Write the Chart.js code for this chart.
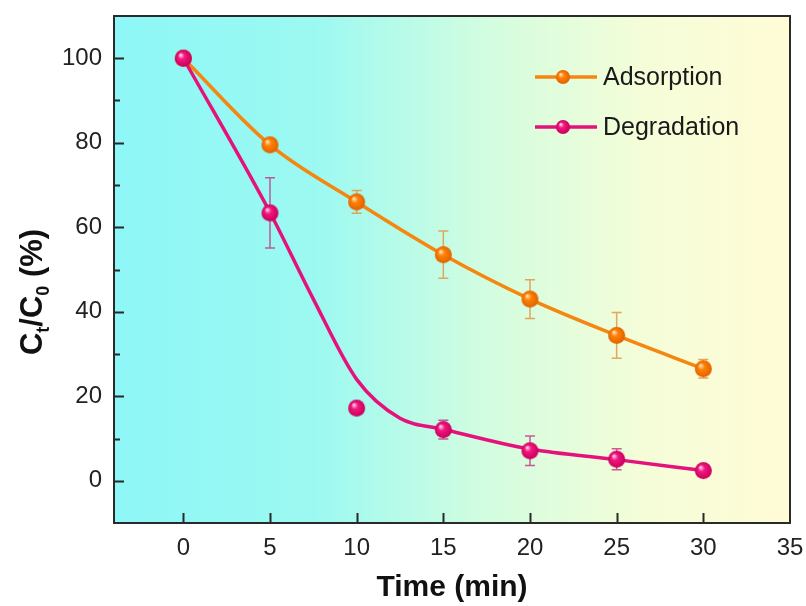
<!DOCTYPE html>
<html>
<head>
<meta charset="utf-8">
<script src="https://cdn.jsdelivr.net/npm/chart.js@4.4.1/dist/chart.umd.min.js"></script>
<style>
  html, body { margin: 0; padding: 0; background: #ffffff; }
  #wrap { width: 806px; height: 606px; }
</style>
</head>
<body>
<div id="wrap"><canvas id="c" width="806" height="606"></canvas></div>
<script>
// ---- Data ----
const times = [0, 5, 10, 15, 20, 25, 30];
const adsorption = [100, 79.5, 66, 53.5, 43, 34.4, 26.5];
const adsorptionErr = [0, 1, 2.7, 5.6, 4.6, 5.4, 2.2];
const degradation = [100, 63.4, 17.2, 12.1, 7.1, 5.1, 2.4];
const degradationErr = [0, 8.3, 0, 2.2, 3.5, 2.5, 0.6];
// fitted degradation curve
const fitTimes = [0, 5, 7.5, 10, 12.5, 15, 20, 25, 30];
const fitDegradation = [100, 63.5, 43, 24, 14.8, 12.2, 7.5, 5.0, 2.4];
const xTicks = [0, 5, 10, 15, 20, 25, 30, 35];
const yTicks = [0, 20, 40, 60, 80, 100];
const yMinorTicks = [10, 30, 50, 70, 90];
const seriesNames = ['Adsorption', 'Degradation'];
const xTitle = 'Time (min)';

const FONT = '"Liberation Sans", Arial, Helvetica, sans-serif';
const ORANGE = '#f5860f';
const PINK = '#e5127c';

function sphere(r, base, edge, hi) {
  const c = document.createElement('canvas');
  const s = Math.ceil(2 * r + 2);
  c.width = s; c.height = s;
  const g = c.getContext('2d');
  const cx = s / 2, cy = s / 2;
  const grad = g.createRadialGradient(cx - 0.35 * r, cy - 0.4 * r, 0.5, cx, cy, r);
  grad.addColorStop(0, hi);
  grad.addColorStop(0.35, base);
  grad.addColorStop(1, edge);
  g.fillStyle = grad;
  g.beginPath(); g.arc(cx, cy, r, 0, Math.PI * 2); g.fill();
  return c;
}
const orangeBall = sphere(8.5, '#ff8205', '#e06200', '#ffe2c0');
const pinkBall = sphere(8.5, '#f2187f', '#c8005c', '#ffd0e8');
const orangeBallS = sphere(7, '#ff8205', '#e06200', '#ffe2c0');
const pinkBallS = sphere(7, '#f2187f', '#c8005c', '#ffd0e8');

const pts = (xs, ys) => xs.map((x, i) => ({ x: x, y: ys[i] }));

const bgPlugin = {
  id: 'bg',
  beforeDraw(chart) {
    const { ctx, chartArea: a } = chart;
    ctx.save();
    ctx.fillStyle = '#ffffff';
    ctx.fillRect(0, 0, chart.width, chart.height);
    const g = ctx.createLinearGradient(a.left, 0, a.right, 0);
    g.addColorStop(0, '#8ef7f7');
    g.addColorStop(0.3, '#9cf9f1');
    g.addColorStop(0.55, '#d2fde0');
    g.addColorStop(0.78, '#f4fdd8');
    g.addColorStop(1, '#fffcd6');
    ctx.fillStyle = g;
    ctx.fillRect(a.left, a.top, a.right - a.left, a.bottom - a.top);
    ctx.restore();
  }
};

const errPlugin = {
  id: 'errbars',
  beforeDatasetsDraw(chart) {
    const { ctx, scales: { x, y } } = chart;
    const sets = [
      { vals: adsorption, err: adsorptionErr, color: 'rgba(226,150,70,0.85)' },
      { vals: degradation, err: degradationErr, color: 'rgba(196,60,140,0.85)' }
    ];
    ctx.save();
    ctx.lineWidth = 1.5;
    sets.forEach(s => {
      ctx.strokeStyle = s.color;
      times.forEach((t, i) => {
        const e = s.err[i];
        if (!e) return;
        const px = x.getPixelForValue(t);
        const top = y.getPixelForValue(s.vals[i] + e);
        const bot = y.getPixelForValue(s.vals[i] - e);
        ctx.beginPath();
        ctx.moveTo(px, top); ctx.lineTo(px, bot);
        ctx.moveTo(px - 5, top); ctx.lineTo(px + 5, top);
        ctx.moveTo(px - 5, bot); ctx.lineTo(px + 5, bot);
        ctx.stroke();
      });
    });
    ctx.restore();
  }
};

const framePlugin = {
  id: 'frame',
  afterDatasetsDraw(chart) {
    const { ctx, chartArea: a, scales: { x, y } } = chart;
    ctx.save();
    ctx.strokeStyle = '#2a2a2a';
    ctx.lineWidth = 2;
    ctx.strokeRect(a.left, a.top, a.right - a.left, a.bottom - a.top);
    ctx.beginPath();
    yTicks.forEach(v => {
      const py = Math.round(y.getPixelForValue(v)) + 0.5;
      ctx.moveTo(a.left, py); ctx.lineTo(a.left + 10, py);
    });
    yMinorTicks.forEach(v => {
      const py = Math.round(y.getPixelForValue(v)) + 0.5;
      ctx.moveTo(a.left, py); ctx.lineTo(a.left + 6, py);
    });
    xTicks.forEach(v => {
      const px = Math.round(x.getPixelForValue(v)) + 0.5;
      if (px >= a.right - 2) return;
      ctx.moveTo(px, a.bottom); ctx.lineTo(px, a.bottom - 10);
    });
    ctx.stroke();

    // legend
    const items = [
      { name: seriesNames[0], color: ORANGE, ball: orangeBallS, y: 77 },
      { name: seriesNames[1], color: PINK, ball: pinkBallS, y: 127 }
    ];
    ctx.font = '25px ' + FONT;
    ctx.textBaseline = 'middle';
    ctx.textAlign = 'left';
    items.forEach(it => {
      ctx.strokeStyle = it.color;
      ctx.lineWidth = 3.5;
      ctx.beginPath();
      ctx.moveTo(535, it.y); ctx.lineTo(597, it.y);
      ctx.stroke();
      ctx.drawImage(it.ball, 563 - it.ball.width / 2, it.y - it.ball.height / 2);
      ctx.fillStyle = '#1a1a1a';
      ctx.fillText(it.name, 603, it.y + 1);
    });

    // y axis title with subscripts
    ctx.translate(42, 292);
    ctx.rotate(-Math.PI / 2);
    ctx.fillStyle = '#111';
    ctx.textBaseline = 'alphabetic';
    const big = 'bold 31px ' + FONT, small = 'bold 18px ' + FONT;
    const parts = [['C', big, 0], ['t', small, 7], ['/C', big, 0], ['0', small, 7], [' (%)', big, 0]];
    let w = 0;
    parts.forEach(p => { ctx.font = p[1]; w += ctx.measureText(p[0]).width; });
    let cx = -w / 2;
    parts.forEach(p => {
      ctx.font = p[1];
      ctx.fillText(p[0], cx, p[2]);
      cx += ctx.measureText(p[0]).width;
    });
    ctx.restore();
  }
};

new Chart(document.getElementById('c'), {
  type: 'scatter',
  data: {
    datasets: [
      {
        label: seriesNames[0],
        data: pts(times, adsorption),
        showLine: true,
        borderColor: ORANGE,
        borderWidth: 3.5,
        cubicInterpolationMode: 'monotone',
        pointStyle: orangeBall,
        pointRadius: 8,
        order: 3
      },
      {
        label: seriesNames[1] + ' fit',
        data: pts(fitTimes, fitDegradation),
        showLine: true,
        borderColor: PINK,
        borderWidth: 3.5,
        cubicInterpolationMode: 'monotone',
        pointRadius: 0,
        order: 2
      },
      {
        label: seriesNames[1],
        data: pts(times, degradation),
        showLine: false,
        pointStyle: pinkBall,
        pointRadius: 8,
        order: 1
      }
    ]
  },
  options: {
    responsive: false,
    animation: false,
    devicePixelRatio: 1,
    layout: { padding: { left: 0, top: 16, right: 16, bottom: 0 } },
    plugins: { legend: { display: false }, tooltip: { enabled: false } },
    scales: {
      x: {
        type: 'linear',
        min: -4, max: 35,
        grid: { display: false, drawTicks: false },
        border: { display: false },
        afterBuildTicks: s => { s.ticks = xTicks.map(v => ({ value: v })); },
        afterFit: s => { s.height = 83; s.paddingLeft = 0; s.paddingRight = 0; },
        ticks: { font: { family: FONT, size: 24 }, color: '#222', padding: 11, maxRotation: 0, autoSkip: false },
        title: { display: true, text: xTitle, font: { family: FONT, size: 30, weight: 'bold' }, color: '#111', padding: { top: 0, bottom: 0 } }
      },
      y: {
        type: 'linear',
        min: -10, max: 110,
        grid: { display: false, drawTicks: false },
        border: { display: false },
        afterBuildTicks: s => { s.ticks = yTicks.map(v => ({ value: v })); },
        afterFit: s => { s.width = 114; s.paddingTop = 0; s.paddingBottom = 0; },
        ticks: { font: { family: FONT, size: 24 }, color: '#222', padding: 12, autoSkip: false }
      }
    }
  },
  plugins: [bgPlugin, errPlugin, framePlugin]
});
</script>
</body>
</html>
